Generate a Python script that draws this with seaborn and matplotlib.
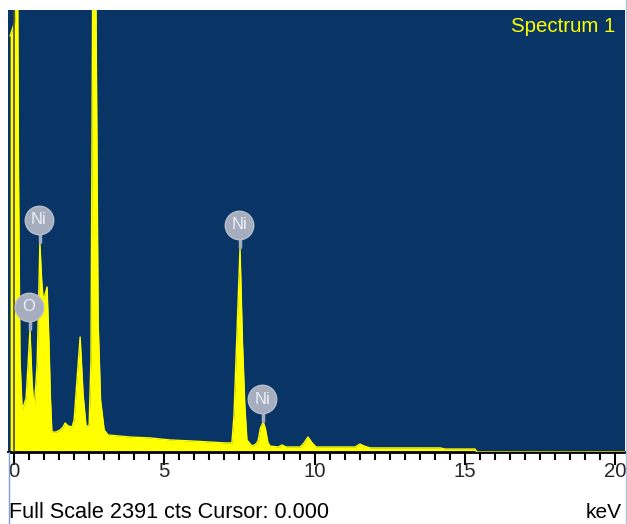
import numpy as np
import pandas as pd
import matplotlib
matplotlib.use("Agg")
import matplotlib.pyplot as plt
import matplotlib.transforms as mtransforms
from matplotlib.patches import Rectangle
from matplotlib.lines import Line2D
import seaborn as sns

# ---------------- data ----------------
full_scale = 2391
energy_kev = [-0.13, 0.03, 0.08, 0.12, 0.15, 0.20, 0.27, 0.40, 0.47, 0.53, 0.60, 0.67,
              0.77, 0.83, 0.86, 0.92, 0.97, 1.03, 1.10, 1.16, 1.21, 1.26,
              1.40, 1.53, 1.63, 1.70, 1.80, 1.93, 2.00, 2.10, 2.20, 2.30,
              2.40, 2.50, 2.56, 2.62, 2.72, 2.80, 2.88, 3.00, 3.13, 3.86, 4.53,
              5.19, 5.86, 6.52, 7.02, 7.25, 7.32, 7.42, 7.52, 7.60, 7.68, 7.75, 7.92,
              8.05, 8.12, 8.20, 8.29, 8.36, 8.45, 8.52, 8.79, 8.92, 9.05, 9.52, 9.65,
              9.78, 9.92, 10.05, 10.85, 11.35, 11.51, 11.65, 11.85, 14.18, 14.34,
              15.34, 15.40, 20.40]
counts = [2250, 2330, 2600, 2600, 1500, 500, 227, 290, 480, 660, 380, 227,
          480, 900, 1131, 930, 822, 850, 893, 606, 300, 108,
          108, 119, 135, 157, 141, 135, 173, 400, 622, 308,
          135, 146, 498, 2600, 2600, 700, 281, 119, 92, 81, 76,
          65, 60, 54, 49, 49, 200, 650, 1104, 600, 250, 65, 32,
          43, 60, 130, 162, 130, 50, 32, 27, 38, 27, 27, 49,
          81, 49, 27, 27, 27, 43, 32, 22, 22, 16,
          16, 0, 0]
x_ticks = [0, 5, 10, 15, 20]
x_tick_labels = ["0", "5", "10", "15", "20"]
peak_labels = ["O", "Ni", "Ni", "Ni"]
peak_energy = [0.53, 0.86, 7.52, 8.29]
peak_counts = [660, 1131, 1104, 162]
title_text = "Spectrum 1"
status_text = "Full Scale 2391 cts Cursor: 0.000"
unit_text = "keV"

df = pd.DataFrame({"energy": energy_kev, "counts": counts})

# ---------------- styling ----------------
W, H, DPI = 627, 524, 100
BG = "#083566"
YEL = "#FFFF00"
BUB = "#A5ADBF"

sns.set_style("white")
plt.rcParams["font.family"] = ["Liberation Sans", "DejaVu Sans"]

fig = plt.figure(figsize=(W / DPI, H / DPI), dpi=DPI)
fig.patch.set_facecolor("white")
left, right, top, bottom = 8, 625, 10, 452
ax = fig.add_axes([left / W, (H - bottom) / H, (right - left) / W, (bottom - top) / H])
ax.set_facecolor(BG)

ax.fill_between(df["energy"], 0, df["counts"], color=YEL, linewidth=0, zorder=2)
sns.lineplot(data=df, x="energy", y="counts", ax=ax, color=YEL, linewidth=1.0,
             estimator=None, sort=False, zorder=3)

ax.set_xlim(-0.2, 20.33)
ax.set_ylim(0, full_scale)

# cursor line at 0 keV
ax.axvline(0.0, color="#4a4a3a", linewidth=1.2, zorder=4)

# peak label bubbles
for lab, e, c in zip(peak_labels, peak_energy, peak_counts):
    base = ax.transData.transform((e, c))
    ax.add_line(Line2D([base[0], base[0]], [base[1] + 1, base[1] + 12],
                       transform=None, color=BUB, linewidth=2.5, zorder=5))
    tr = mtransforms.offset_copy(ax.transData, fig=fig, x=-1, y=23, units="dots")
    ax.plot([e], [c], marker="o", markersize=20.5, color=BUB, markeredgecolor="#b8bfcc",
            markeredgewidth=1.0, transform=tr, zorder=6, clip_on=False)
    ax.text(e, c, lab, transform=tr, ha="center", va="center", color="#eef1f7",
            fontsize=12, zorder=7)

# axes decoration
for s in ["top", "right", "left"]:
    ax.spines[s].set_visible(False)
ax.spines["bottom"].set_color("black")
ax.spines["bottom"].set_linewidth(2)
ax.set_yticks([])
ax.set_xticks(x_ticks)
ax.set_xticklabels(x_tick_labels)
ax.set_xticks(np.arange(0.5, 20.01, 0.5), minor=True)
ax.tick_params(axis="x", which="major", direction="out", length=9, width=1.5,
               color="black", labelsize=14.7, pad=-1.5, bottom=True)
ax.tick_params(axis="x", which="minor", direction="out", length=6, width=1.5,
               color="black", bottom=True)
ax.set_xlabel("")
ax.set_ylabel("")

fig.text(615 / W, 1 - 27 / H, title_text, ha="right", va="center", color=YEL,
         fontsize=14.7)
fig.text(9 / W, 1 - 513 / H, status_text, ha="left", va="center", color="black",
         fontsize=15.6)
fig.text(622 / W, 1 - 513 / H, unit_text, ha="right", va="center", color="black",
         fontsize=15.0)

# left clipping of the widget and thin borders
fig.add_artist(Rectangle((0, 0), 9, H - bottom - 1, transform=None, facecolor="white",
                         edgecolor="none", zorder=20))
fig.add_artist(Line2D([9, 9], [0, H - bottom], transform=None, color="#7f9fd0",
                      linewidth=1, zorder=21))
fig.add_artist(Line2D([626, 626], [0, H], transform=None, color="#b0c4e0",
                      linewidth=1, zorder=21))

fig.savefig("out.png", dpi=DPI, facecolor="white")
